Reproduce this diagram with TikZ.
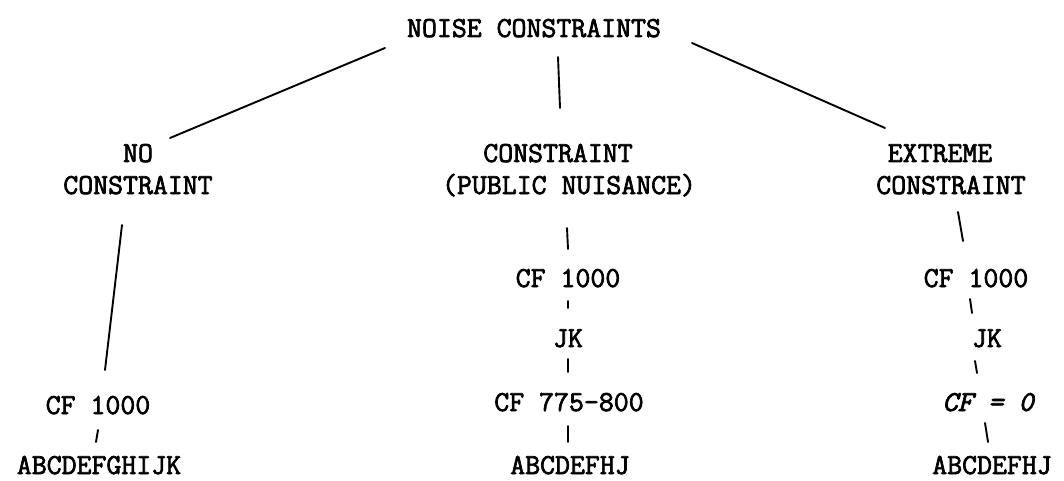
\documentclass[tikz,border=0pt]{standalone}
\usepackage{fontspec}
\newfontfamily\typeface{Latin Modern Mono}[FakeBold=2.4]
\begin{document}
\begin{tikzpicture}[x=1pt,y=-1pt,
  lbl/.style={anchor=base,inner sep=0pt,font=\fontsize{29}{32}\selectfont\typeface},
  link/.style={line width=1.9pt,line cap=round}]
\useasboundingbox (0,0) rectangle (1064,481);

% root
\node[lbl] (top) at (534,37) {NOISE CONSTRAINTS};

% left branch
\node[lbl] (no1) at (138,162) {NO};
\node[lbl] (no2) at (138,194) {CONSTRAINT};
\node[lbl] (lcf) at (98,414) {CF 1000};
\node[lbl] (labc) at (99,474) {ABCDEFGHIJK};

% middle branch
\node[lbl] (c1) at (558,162) {CONSTRAINT};
\node[lbl] (c2) at (569,194) {(PUBLIC NUISANCE)};
\node[lbl] (mcf) at (568,287) {CF 1000};
\node[lbl] (mjk) at (568,347) {JK};
\node[lbl] (mcf2) at (569,411) {CF 775-800};
\node[lbl] (mabc) at (570,474) {ABCDEFHJ};

% right branch
\node[lbl] (e1) at (940,162) {EXTREME};
\node[lbl] (e2) at (951,194) {CONSTRAINT};
\node[lbl] (rcf) at (976,287) {CF 1000};
\node[lbl] (rjk) at (987,347) {JK};
\node[lbl] (rcf0) at (988,411) {\itshape CF = 0};
\node[lbl] (rabc) at (992,474) {ABCDEFHJ};

% connectors from the root
\draw[link] ([shift={(-149,11)}]top.base) -- ([shift={(32,-24)}]no1.base);
\draw[link] ([shift={(24,20)}]top.base) -- ([shift={(2,-54)}]c1.base);
\draw[link] ([shift={(158,6)}]top.base) -- ([shift={(-55,-34)}]e1.base);

% left chain
\draw[link] ([shift={(-16,31)}]no2.base) -- ([shift={(7,-44)}]lcf.base);
\draw[link] ([shift={(0,16)}]lcf.base) -- ([shift={(-3,-32)}]labc.base);

% middle chain
\draw[link] ([shift={(-2,34)}]c2.base) -- ([shift={(0,-38)}]mcf.base);
\draw[link] ([shift={(0,14)}]mcf.base) -- ([shift={(0,-39)}]mjk.base);
\draw[link] ([shift={(0,12)}]mjk.base) -- ([shift={(-1,-39)}]mcf2.base);
\draw[link] ([shift={(-1,15)}]mcf2.base) -- ([shift={(-2,-32)}]mabc.base);

% right chain
\draw[link] ([shift={(7,18)}]e2.base) -- ([shift={(-13,-46)}]rcf.base);
\draw[link] ([shift={(-6,12)}]rcf.base) -- ([shift={(-15,-34)}]rjk.base);
\draw[link] ([shift={(-12,14)}]rjk.base) -- ([shift={(-11,-38)}]rcf0.base);
\draw[link] ([shift={(-3,12)}]rcf0.base) -- ([shift={(-4,-32)}]rabc.base);
\end{tikzpicture}
\end{document}
